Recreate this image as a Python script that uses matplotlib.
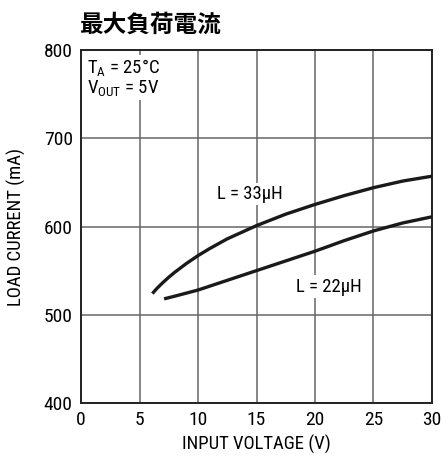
import matplotlib.pyplot as plt

plt.rcParams['font.family'] = ['Roboto Condensed', 'Liberation Sans Narrow', 'Liberation Sans', 'DejaVu Sans']

# max load current vs input voltage, two inductor values
vin_33 = [6.1, 6.5, 7.0, 7.5, 8.0, 9.0, 10, 11, 12.5, 15, 17.5, 20, 22.5, 25, 27.5, 30]
iload_33 = [524, 530, 536.5, 542.5, 548, 558, 567, 575, 586, 601, 614, 625, 635, 644, 651.5, 657]

vin_22 = [7.1, 8.0, 10, 12.5, 15, 17.5, 20, 22.5, 25, 27.5, 30]
iload_22 = [518, 521, 528, 539, 550, 561, 572, 584, 595, 604, 611]

xticks = [0, 5, 10, 15, 20, 25, 30]
yticks = [400, 500, 600, 700, 800]

fig = plt.figure(figsize=(4.43, 4.57), dpi=100)
ax = fig.add_axes([81 / 443, 54 / 457, 351 / 443, 353 / 457])

ax.plot(vin_33, iload_33, color='#1a1a1a', lw=2.4, solid_capstyle='butt', zorder=3)
ax.plot(vin_22, iload_22, color='#1a1a1a', lw=2.4, solid_capstyle='butt', zorder=3)

ax.set_xlim(0, 30)
ax.set_ylim(400, 800)
ax.set_xticks(xticks)
ax.set_yticks(yticks)
ax.grid(True, color='#666666', lw=1.1)
ax.tick_params(length=0, labelsize=14, pad=6)
for s in ax.spines.values():
    s.set_linewidth(1.4)
    s.set_color('#222222')

box = dict(facecolor='white', edgecolor='none', pad=1.5)
ax.text(14.4, 637, 'L = 33μH', fontsize=13.5, ha='center', va='center', bbox=box, zorder=4)
ax.text(21.2, 532, 'L = 22μH', fontsize=13.5, ha='center', va='center', bbox=box, zorder=4)
ax.text(0.5, 792, '$\\mathregular{T_A}$ = 25°C\n$\\mathregular{V_{OUT}}$ = 5V', fontsize=13.5,
        ha='left', va='top', linespacing=1.0, bbox=box, zorder=4)

ax.set_xlabel('INPUT VOLTAGE (V)', fontsize=13.5, labelpad=4)
ax.set_ylabel('LOAD CURRENT (mA)', fontsize=13.5, labelpad=13)

fig.text(80 / 443, 1 - 25 / 457, '最大負荷電流', fontsize=17, fontweight='bold',
         family=['Noto Sans CJK JP', 'DejaVu Sans'], ha='left', va='center')

fig.savefig('out.png', dpi=100)
